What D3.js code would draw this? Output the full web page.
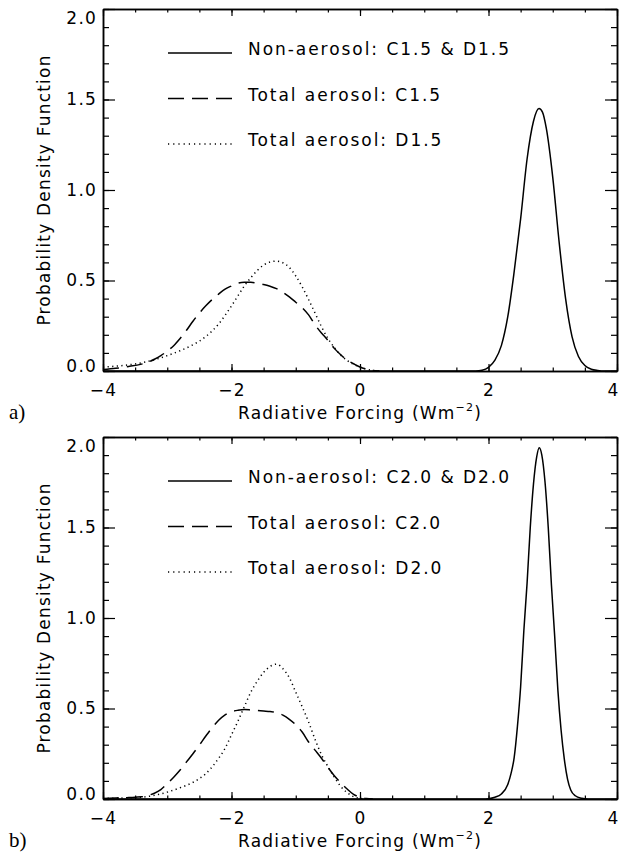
<!DOCTYPE html>
<html>
<head>
<meta charset="utf-8">
<script src="https://cdn.jsdelivr.net/npm/d3@7"></script>
<style>
body { margin: 0; background: #fff; }
text { font-family: "DejaVu Sans", sans-serif; fill: #000; }
</style>
</head>
<body>
<div id="chart"></div>
<script>
// tick values
const xTicks = [-4, -2, 0, 2, 4];
const yTicks = [0, 0.5, 1.0, 1.5, 2.0];

// legend labels
const aLabels = ['Non-aerosol: C1.5 & D1.5', 'Total aerosol: C1.5', 'Total aerosol: D1.5'];
const bLabels = ['Non-aerosol: C2.0 & D2.0', 'Total aerosol: C2.0', 'Total aerosol: D2.0'];
const panelTags = ['a)', 'b)'];

// panel a) curves [forcing, pdf]
const aNonAerosol = [[-4,0],[1.8,0],[1.9,0.004],[2.0,0.02],[2.1,0.06],[2.2,0.14],[2.3,0.30],[2.4,0.55],
  [2.5,0.84],[2.6,1.17],[2.7,1.38],[2.786,1.45],[2.84,1.43],[2.9,1.34],[3.0,1.07],[3.1,0.71],[3.2,0.40],
  [3.3,0.19],[3.4,0.08],[3.5,0.03],[3.6,0.01],[3.7,0.003],[3.8,0],[4,0]];
const aTotalC = [[-4,0.008],[-3.8,0.015],[-3.6,0.025],[-3.4,0.038],[-3.3,0.048],[-3.2,0.065],[-3.1,0.085],
  [-3.0,0.11],[-2.9,0.14],[-2.8,0.18],[-2.7,0.225],[-2.6,0.275],[-2.5,0.32],[-2.4,0.36],[-2.3,0.395],
  [-2.2,0.425],[-2.1,0.452],[-2.0,0.47],[-1.9,0.485],[-1.8,0.49],[-1.7,0.49],[-1.6,0.485],[-1.5,0.478],
  [-1.4,0.468],[-1.3,0.455],[-1.2,0.435],[-1.1,0.41],[-1.0,0.38],[-0.9,0.35],[-0.8,0.31],[-0.7,0.255],
  [-0.6,0.21],[-0.5,0.17],[-0.4,0.125],[-0.3,0.09],[-0.2,0.06],[-0.1,0.04],[0.0,0.022],[0.1,0.01],
  [0.2,0.003],[0.3,0]];
const aTotalD = [[-4,0.022],[-3.8,0.027],[-3.6,0.034],[-3.4,0.045],[-3.2,0.062],[-3.0,0.085],[-2.8,0.112],
  [-2.6,0.145],[-2.4,0.19],[-2.2,0.26],[-2.0,0.36],[-1.9,0.415],[-1.8,0.47],[-1.7,0.515],[-1.6,0.555],
  [-1.5,0.585],[-1.4,0.602],[-1.3,0.607],[-1.2,0.598],[-1.1,0.572],[-1.0,0.525],[-0.9,0.465],[-0.8,0.395],
  [-0.7,0.32],[-0.6,0.245],[-0.5,0.18],[-0.4,0.13],[-0.3,0.088],[-0.2,0.058],[-0.1,0.037],[0.0,0.022],
  [0.1,0.01],[0.2,0.003],[0.3,0]];

// panel b) curves
const bNonAerosol = [[-4,0],[1.9,0],[2.0,0.002],[2.1,0.01],[2.2,0.028],[2.3,0.08],[2.35,0.14],[2.4,0.23],
  [2.45,0.40],[2.5,0.62],[2.55,0.93],[2.6,1.19],[2.65,1.50],[2.7,1.74],[2.75,1.89],[2.79,1.94],[2.83,1.90],
  [2.88,1.75],[2.93,1.50],[2.98,1.18],[3.03,0.90],[3.08,0.60],[3.13,0.38],[3.18,0.22],[3.23,0.11],
  [3.28,0.05],[3.35,0.018],[3.45,0.004],[3.55,0],[4,0]];
const bTotalC = [[-4,0.003],[-3.8,0.005],[-3.6,0.008],[-3.4,0.012],[-3.3,0.02],[-3.2,0.032],[-3.1,0.052],
  [-3.0,0.085],[-2.9,0.12],[-2.8,0.16],[-2.7,0.205],[-2.6,0.25],[-2.5,0.298],[-2.4,0.348],[-2.3,0.395],
  [-2.2,0.435],[-2.1,0.465],[-2.0,0.482],[-1.9,0.49],[-1.8,0.494],[-1.7,0.492],[-1.6,0.489],[-1.5,0.486],
  [-1.4,0.483],[-1.3,0.478],[-1.2,0.463],[-1.1,0.44],[-1.0,0.41],[-0.9,0.37],[-0.8,0.315],[-0.7,0.27],
  [-0.6,0.225],[-0.5,0.175],[-0.4,0.128],[-0.3,0.09],[-0.2,0.055],[-0.1,0.025],[0.0,0.01],[0.1,0.003],[0.2,0]];
const bTotalD = [[-4,0.004],[-3.8,0.005],[-3.6,0.007],[-3.4,0.01],[-3.2,0.02],[-3.0,0.038],[-2.8,0.062],
  [-2.6,0.092],[-2.4,0.14],[-2.2,0.225],[-2.1,0.28],[-2.0,0.355],[-1.9,0.43],[-1.8,0.51],[-1.7,0.59],
  [-1.6,0.65],[-1.5,0.70],[-1.4,0.732],[-1.3,0.745],[-1.2,0.72],[-1.1,0.67],[-1.0,0.59],[-0.9,0.51],
  [-0.8,0.425],[-0.7,0.33],[-0.6,0.245],[-0.5,0.18],[-0.4,0.12],[-0.3,0.07],[-0.2,0.035],[-0.1,0.013],
  [0.0,0.004],[0.1,0]];

// sizes
const width = 620, height = 860;
const left = 103, right = 617;
const plotH = 362;
const panelTops = [9, 437];

const dashStyles = [null, '16,8', '1.2,3.4'];

const svg = d3.select('#chart')
  .append('svg')
  .attr('width', width)
  .attr('height', height);

const xScale = d3.scaleLinear().domain([-4, 4]).range([left, right]);

const xMinor = d3.range(-4, 4.001, 0.5);
const yMinor = d3.range(0, 2.001, 0.1);

function styleAxis(g) {
  g.attr('font-family', null).attr('font-size', null);
  g.select('.domain').attr('stroke-width', 1.5);
  g.selectAll('.tick line').attr('stroke-width', 1.2);
  g.selectAll('text')
    .style('font-size', '17px')
    .style('letter-spacing', '1.2px');
}

function drawPanel(top, series, labels, tag) {
  const yScale = d3.scaleLinear().domain([0, 2]).range([top + plotH, top]);
  const bottom = top + plotH;

  const line = d3.line()
    .x(d => xScale(d[0]))
    .y(d => yScale(d[1]))
    .curve(d3.curveMonotoneX);

  svg.append('g')
    .selectAll('path')
    .data(series)
    .enter()
    .append('path')
    .attr('d', d => line(d))
    .attr('fill', 'none')
    .attr('stroke', '#000')
    .attr('stroke-width', 1.5)
    .attr('stroke-dasharray', (d, i) => dashStyles[i]);

  // minor ticks
  svg.append('g').attr('transform', 'translate(0,' + bottom + ')')
    .call(d3.axisBottom(xScale).tickValues(xMinor).tickSizeInner(-3.5).tickSizeOuter(0).tickFormat(''))
    .call(styleAxis);
  svg.append('g').attr('transform', 'translate(0,' + top + ')')
    .call(d3.axisTop(xScale).tickValues(xMinor).tickSizeInner(-3.5).tickSizeOuter(0).tickFormat(''))
    .call(styleAxis);
  svg.append('g').attr('transform', 'translate(' + left + ',0)')
    .call(d3.axisLeft(yScale).tickValues(yMinor).tickSizeInner(-6).tickSizeOuter(0).tickFormat(''))
    .call(styleAxis);
  svg.append('g').attr('transform', 'translate(' + right + ',0)')
    .call(d3.axisRight(yScale).tickValues(yMinor).tickSizeInner(-6).tickSizeOuter(0).tickFormat(''))
    .call(styleAxis);

  // major ticks
  const xAxis = svg.append('g').attr('transform', 'translate(0,' + bottom + ')')
    .call(d3.axisBottom(xScale).tickValues(xTicks).tickSizeInner(-7).tickSizeOuter(0)
      .tickPadding(13).tickFormat(d3.format('d')))
    .call(styleAxis);
  // keep the right-most label inside the page
  xAxis.selectAll('.tick text')
    .attr('transform', d => d === 4 ? 'translate(-4,0)' : null);
  svg.append('g').attr('transform', 'translate(0,' + top + ')')
    .call(d3.axisTop(xScale).tickValues(xTicks).tickSizeInner(-7).tickSizeOuter(0).tickFormat(''))
    .call(styleAxis);
  const yAxis = svg.append('g').attr('transform', 'translate(' + left + ',0)')
    .call(d3.axisLeft(yScale).tickValues(yTicks).tickSizeInner(-12).tickSizeOuter(0)
      .tickPadding(6).tickFormat(d3.format('.1f')))
    .call(styleAxis);
  yAxis.selectAll('.tick text')
    .attr('transform', d => d === 2 ? 'translate(0,9)' : d === 0 ? 'translate(0,-5)' : null);
  svg.append('g').attr('transform', 'translate(' + right + ',0)')
    .call(d3.axisRight(yScale).tickValues(yTicks).tickSizeInner(-12).tickSizeOuter(0).tickFormat(''))
    .call(styleAxis);

  // legend
  const legend = svg.append('g');
  legend.selectAll('line')
    .data(labels)
    .enter()
    .append('line')
    .attr('x1', 168)
    .attr('x2', 232)
    .attr('y1', (d, i) => top + 44 + i * 45.5)
    .attr('y2', (d, i) => top + 44 + i * 45.5)
    .attr('stroke', '#000')
    .attr('stroke-width', 1.5)
    .attr('stroke-dasharray', (d, i) => i === 2 ? '1.2,4' : dashStyles[i]);
  legend.selectAll('text')
    .data(labels)
    .enter()
    .append('text')
    .attr('x', 248)
    .attr('y', (d, i) => top + 46 + i * 45.5)
    .style('font-size', '17px')
    .style('letter-spacing', '1.95px')
    .text(d => d);

  // y title
  svg.append('text')
    .attr('transform', 'translate(50,' + (top + plotH / 2) + ') rotate(-90)')
    .attr('text-anchor', 'middle')
    .style('font-size', '17px')
    .style('letter-spacing', '1.2px')
    .text('Probability Density Function');

  // x title
  const xt = svg.append('text')
    .attr('x', (left + right) / 2)
    .attr('y', bottom + 48)
    .attr('text-anchor', 'middle')
    .style('font-size', '17px')
    .style('letter-spacing', '1.2px');
  xt.append('tspan').text('Radiative Forcing (Wm');
  xt.append('tspan').attr('dy', -8).style('font-size', '11px').text('−2');
  xt.append('tspan').attr('dy', 8).text(')');

  // panel tag
  svg.append('text')
    .attr('x', 9)
    .attr('y', bottom + 48)
    .style('font-family', '"Liberation Serif", serif')
    .style('font-size', '21px')
    .text(tag);
}

drawPanel(panelTops[0], [aNonAerosol, aTotalC, aTotalD], aLabels, panelTags[0]);
drawPanel(panelTops[1], [bNonAerosol, bTotalC, bTotalD], bLabels, panelTags[1]);
</script>
</body>
</html>
